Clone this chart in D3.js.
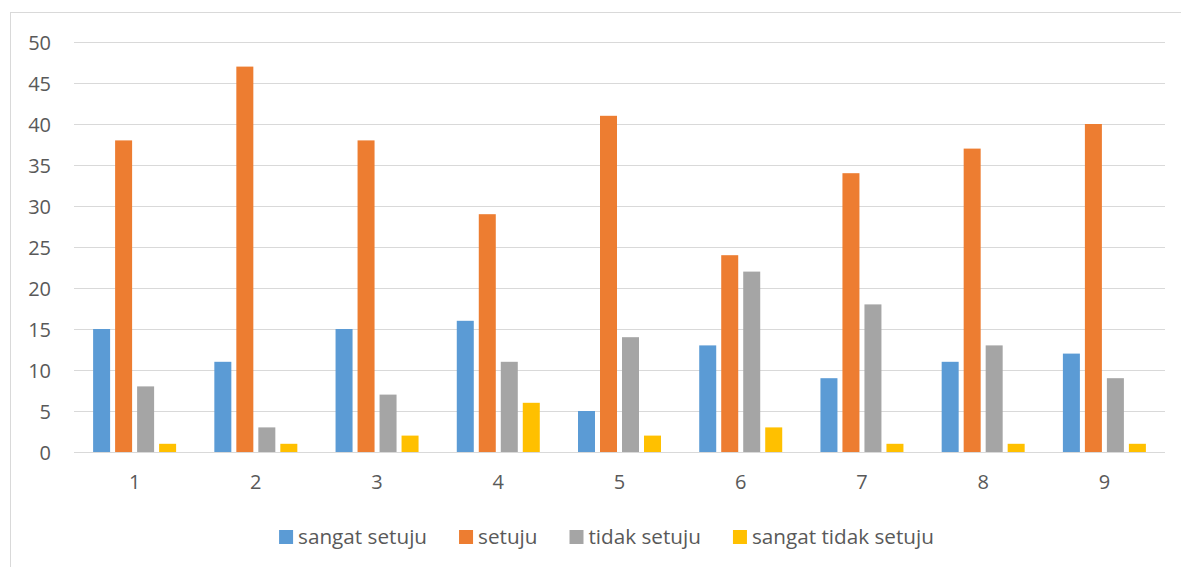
<!DOCTYPE html>
<html>
<head>
<meta charset="utf-8">
<script src="https://cdn.jsdelivr.net/npm/d3@7"></script>
<style>
  html, body { margin: 0; padding: 0; background: #fff; }
  svg { display: block; }
  text { font-family: "Open Sans", "Noto Sans", sans-serif; fill: #595959; }
</style>
</head>
<body>
<svg id="chart" width="1181" height="567"></svg>
<script>
// Survey responses per statement (1–9)
const categories = ["1", "2", "3", "4", "5", "6", "7", "8", "9"];
const seriesNames = ["sangat setuju", "setuju", "tidak setuju", "sangat tidak setuju"];
const sangatSetuju = [15, 11, 15, 16, 5, 13, 9, 11, 12];
const setuju = [38, 47, 38, 29, 41, 24, 34, 37, 40];
const tidakSetuju = [8, 3, 7, 11, 14, 22, 18, 13, 9];
const sangatTidakSetuju = [1, 1, 2, 6, 2, 3, 1, 1, 1];
const yTicks = [0, 5, 10, 15, 20, 25, 30, 35, 40, 45, 50];
const colors = ["#5B9BD5", "#ED7D31", "#A5A5A5", "#FFC000"];

const seriesValues = [sangatSetuju, setuju, tidakSetuju, sangatTidakSetuju];

const svg = d3.select("#chart");
const plot = { left: 74, right: 1165, top: 42, bottom: 452 };

// chart frame
svg.append("rect")
  .attr("x", 10.5).attr("y", 12.5)
  .attr("width", 1200).attr("height", 600)
  .attr("fill", "#fff")
  .attr("stroke", "#d9d9d9").attr("stroke-width", 1);

const x0 = d3.scaleBand().domain(categories).range([plot.left, plot.right]).padding(0);
const groupHalf = 41.5;
const x1 = d3.scaleBand().domain(seriesNames)
  .range([x0.bandwidth() / 2 - groupHalf, x0.bandwidth() / 2 + groupHalf])
  .paddingInner(5 / 22).paddingOuter(0);
const y = d3.scaleLinear().domain([0, 50]).range([plot.bottom, plot.top]);

// gridlines
svg.append("g").selectAll("line").data(yTicks).join("line")
  .attr("x1", plot.left).attr("x2", plot.right)
  .attr("y1", d => Math.round(y(d)) + 0.5).attr("y2", d => Math.round(y(d)) + 0.5)
  .attr("stroke", "#d9d9d9").attr("stroke-width", 1);

// y axis labels
const yAxis = d3.axisLeft(y).tickValues(yTicks).tickSize(0).tickPadding(0);
const yg = svg.append("g").attr("transform", "translate(51,0)").call(yAxis);
yg.select(".domain").remove();
yg.selectAll("text").attr("font-size", 20).attr("fill", "#595959")
  .style("font-family", "\"Open Sans\", \"Noto Sans\", sans-serif")
  .attr("dy", "0.36em").attr("x", 0);

// bars
const groups = svg.append("g").selectAll("g").data(categories).join("g")
  .attr("transform", d => `translate(${x0(d)},0)`);
groups.selectAll("rect")
  .data((d, i) => seriesNames.map((s, j) => ({ s, j, v: seriesValues[j][i] })))
  .join("rect")
  .attr("x", d => x1(d.s))
  .attr("width", x1.bandwidth())
  .attr("y", d => y(d.v))
  .attr("height", d => y(0) - y(d.v))
  .attr("fill", d => colors[d.j]);

// baseline
svg.append("line")
  .attr("x1", plot.left).attr("x2", plot.right)
  .attr("y1", Math.round(y(0)) + 0.5).attr("y2", Math.round(y(0)) + 0.5)
  .attr("stroke", "#d9d9d9").attr("stroke-width", 1);

// x axis labels
const xAxis = d3.axisBottom(x0).tickSize(0).tickPadding(0);
const xg = svg.append("g").attr("transform", `translate(0,${plot.bottom})`).call(xAxis);
xg.select(".domain").remove();
xg.selectAll("text").attr("font-size", 20).attr("fill", "#595959")
  .style("font-family", "\"Open Sans\", \"Noto Sans\", sans-serif")
  .attr("y", 30).attr("dy", "0.36em");

// legend
const legend = svg.append("g");
const items = legend.selectAll("g").data(seriesNames).join("g");
items.append("rect").attr("width", 14).attr("height", 14)
  .attr("y", 530).attr("fill", (d, i) => colors[i]);
items.append("text").attr("x", 19).attr("y", 537).attr("dy", "0.36em")
  .attr("font-size", 20.7).text(d => d);
let cursor = 0;
items.each(function () {
  const g = d3.select(this);
  const w = 19 + g.select("text").node().getComputedTextLength();
  g.attr("transform", `translate(${cursor},0)`);
  cursor += w + 32;
});
const legendWidth = cursor - 32;
legend.attr("transform", `translate(${606.5 - legendWidth / 2},0)`);
</script>
</body>
</html>
